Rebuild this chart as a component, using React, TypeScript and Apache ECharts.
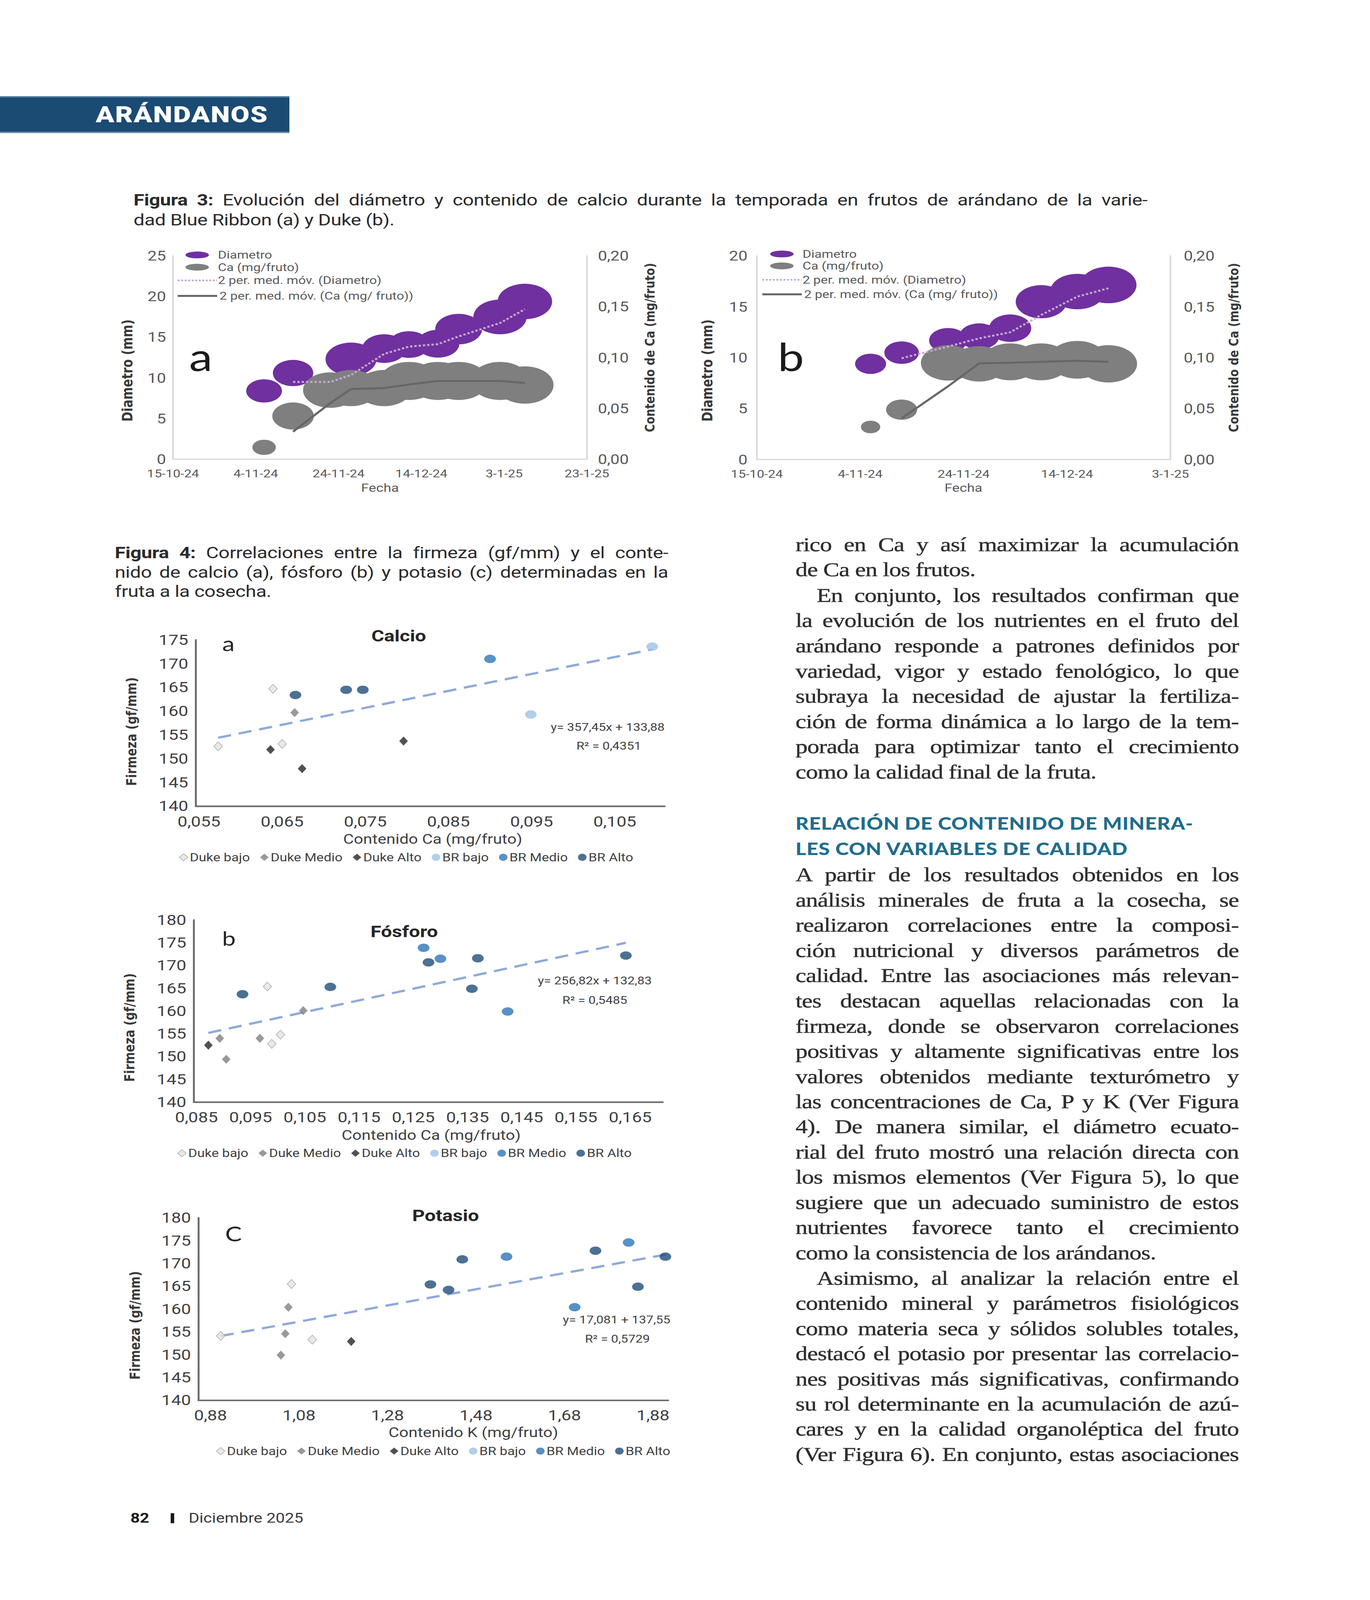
import React, { useEffect, useRef } from "react";
import * as echarts from "echarts";

const W = 3508;
const H = 4958;

const SANS = "Roboto, 'Noto Sans', 'DejaVu Sans', sans-serif";
const WIDE = "'DejaVu Sans', Verdana, sans-serif";
const LETTER = "Lato, 'Open Sans', sans-serif";
const SERIF = "'Liberation Serif', 'DejaVu Serif', serif";

// ---------------- Figure 3 data ----------------
const AXIS_ORIGIN = "2024-10-15";

// (a) Blue Ribbon
const fig3aDates = ["2024-11-06", "2024-11-13", "2024-11-22", "2024-11-27", "2024-12-05", "2024-12-11", "2024-12-18", "2024-12-23", "2025-01-02", "2025-01-08"];
const fig3aDiametro = [8.4, 10.6, 8.4, 12.3, 13.6, 14.1, 14.2, 16.0, 17.5, 19.4];
const fig3aDiametroSize = [0.61, 0.69, 0.67, 0.87, 0.75, 0.7, 0.73, 0.8, 0.91, 0.93];
const fig3aCa = [0.0117, 0.0425, 0.068, 0.07, 0.07, 0.077, 0.077, 0.077, 0.077, 0.073];
const fig3aCaSize = [0.4, 0.71, 0.93, 0.95, 0.95, 1.0, 1.0, 1.0, 1.0, 0.98];

// (b) Duke
const fig3bDates = ["2024-11-06", "2024-11-12", "2024-11-21", "2024-11-27", "2024-12-03", "2024-12-09", "2024-12-16", "2024-12-22"];
const fig3bDiametro = [9.4, 10.5, 11.7, 12.1, 12.9, 15.5, 16.5, 17.15];
const fig3bDiametroSize = [0.53, 0.59, 0.65, 0.68, 0.72, 0.87, 0.93, 0.96];
const fig3bCa = [0.032, 0.049, 0.095, 0.094, 0.096, 0.096, 0.098, 0.094];
const fig3bCaSize = [0.33, 0.53, 0.93, 0.93, 0.97, 0.97, 0.99, 0.98];

// ---------------- Figure 4 data ----------------
const legendNames = ["Duke bajo", "Duke Medio", "Duke Alto", "BR bajo", "BR Medio", "BR Alto"];

// (a) Calcio
const calcioDukeBajo = [[0.0573, 152.6], [0.0639, 164.7], [0.065, 153.1]];
const calcioDukeMedio = [[0.0665, 159.7]];
const calcioDukeAlto = [[0.0636, 151.9], [0.0674, 147.9], [0.0796, 153.7]];
const calcioBRBajo = [[0.0949, 159.3], [0.1095, 173.6]];
const calcioBRMedio = [[0.09, 171.0]];
const calcioBRAlto = [[0.0666, 163.4], [0.0727, 164.5], [0.0747, 164.5]];
const calcioTrend = [[0.0573, 154.4], [0.1095, 173.0]];
const calcioTicks = [0.055, 0.065, 0.075, 0.085, 0.095, 0.105];

// (b) Fósforo
const fosforoDukeBajo = [[0.0981, 165.4], [0.0989, 152.8], [0.1005, 154.8]];
const fosforoDukeMedio = [[0.0893, 154.0], [0.0905, 149.4], [0.0967, 154.0], [0.1047, 160.1]];
const fosforoDukeAlto = [[0.0872, 152.5]];
const fosforoBRBajo: number[][] = [];
const fosforoBRMedio = [[0.1269, 173.9], [0.13, 171.5], [0.1424, 159.9]];
const fosforoBRAlto = [[0.0935, 163.7], [0.1097, 165.3], [0.1278, 170.7], [0.1358, 164.9], [0.1369, 171.6], [0.1642, 172.2]];
const fosforoTrend = [[0.0872, 155.2], [0.1642, 175.0]];
const fosforoTicks = [0.085, 0.095, 0.105, 0.115, 0.125, 0.135, 0.145, 0.155, 0.165];

// (c) Potasio
const potasioDukeBajo = [[0.903, 154.1], [1.063, 165.5], [1.11, 153.3]];
const potasioDukeMedio = [[1.056, 160.4], [1.049, 154.6], [1.039, 149.9]];
const potasioDukeAlto = [[1.198, 152.9]];
const potasioBRBajo: number[][] = [];
const potasioBRMedio = [[1.549, 171.5], [1.703, 160.4], [1.825, 174.6]];
const potasioBRAlto = [[1.377, 165.4], [1.418, 164.2], [1.449, 170.9], [1.75, 172.8], [1.846, 164.9], [1.908, 171.5]];
const potasioTrend = [[0.903, 154.1], [1.911, 172.0]];
const potasioTicks = [0.88, 1.08, 1.28, 1.48, 1.68, 1.88];

// ---------------- helpers ----------------
const DAY = 86400000;
const dayOf = (d: string) => Math.round((Date.parse(d) - Date.parse(AXIS_ORIGIN)) / DAY);
const dateLabel = (v: number) => {
  const dt = new Date(Date.parse(AXIS_ORIGIN) + v * DAY);
  return `${dt.getUTCDate()}-${dt.getUTCMonth() + 1}-${String(dt.getUTCFullYear()).slice(2)}`;
};
const movingAvg = (dates: string[], vals: number[]) =>
  vals.slice(1).map((v, i) => [dayOf(dates[i + 1]), (v + vals[i]) / 2]);

const BUBBLE_MAX = 150;
const PURPLE = "#7030a0";
const GREY = "#7f7f7f";
const MA_DIAM = "#c3a9cf";
const MA_CA = "#666666";

const bubble = (xi: number, yi: number, dates: string[], vals: number[], sizes: number[], color: string, z: number) => ({
  type: "scatter",
  xAxisIndex: xi,
  yAxisIndex: yi,
  z,
  silent: true,
  symbol: "circle",
  data: dates.map((d, i) => [dayOf(d), vals[i], sizes[i]]),
  symbolSize: (v: number[]) => [v[2] * BUBBLE_MAX, (v[2] * BUBBLE_MAX) / 1.27],
  itemStyle: { color, opacity: 1 },
});

const maLine = (xi: number, yi: number, dates: string[], vals: number[], color: string, type: any, width: number) => ({
  type: "line",
  xAxisIndex: xi,
  yAxisIndex: yi,
  z: 6,
  silent: true,
  symbol: "none",
  showSymbol: false,
  data: movingAvg(dates, vals),
  lineStyle: { color, width, type },
});

const STYLE: Record<string, any> = {
  "Duke bajo": { symbol: "diamond", size: [22, 28], color: "#e3e3e3", border: "#a6a6a6" },
  "Duke Medio": { symbol: "diamond", size: [22, 28], color: "#7f7f7f" },
  "Duke Alto": { symbol: "diamond", size: [22, 28], color: "#262626" },
  "BR bajo": { symbol: "circle", size: [30, 26], color: "#9dc3e6" },
  "BR Medio": { symbol: "circle", size: [30, 26], color: "#2e75b6" },
  "BR Alto": { symbol: "circle", size: [30, 26], color: "#1f4e79" },
};

const pointSeries = (idx: number, groups: number[][][]) =>
  groups.map((data, i) => {
    const name = legendNames[i];
    const s = STYLE[name];
    return {
      type: "scatter",
      name,
      xAxisIndex: idx,
      yAxisIndex: idx,
      z: 5,
      silent: true,
      symbol: s.symbol,
      symbolSize: s.size,
      data,
      itemStyle: { color: s.color, borderColor: s.border || s.color, borderWidth: s.border ? 2 : 0 },
    };
  });

const trendSeries = (idx: number, data: number[][]) => ({
  type: "line",
  xAxisIndex: idx,
  yAxisIndex: idx,
  z: 4,
  silent: true,
  symbol: "none",
  showSymbol: false,
  data,
  lineStyle: { color: "#8faadc", width: 7, type: [34, 20] },
});

const txt = (text: string, x: number, y: number, o: any = {}) => ({
  type: "text",
  x,
  y,
  rotation: o.rot || 0,
  silent: true,
  z: 20,
  style: {
    text,
    fontSize: o.size || 32,
    fontFamily: o.family || SANS,
    fontWeight: o.weight || "normal",
    fill: o.color || "#404040",
    align: o.align || "center",
    verticalAlign: "middle",
  },
});

const fig3Legend = (bx: number, by: number, rows: number[]) => [
  { type: "ellipse", silent: true, z: 20, shape: { cx: bx + 50, cy: by + rows[0], rx: 30, ry: 10.5 }, style: { fill: PURPLE } },
  txt("Diametro", bx + 103, by + rows[0], { align: "left", size: 34, color: "#595959" }),
  { type: "ellipse", silent: true, z: 20, shape: { cx: bx + 50, cy: by + rows[1], rx: 30, ry: 10.5 }, style: { fill: GREY } },
  txt("Ca (mg/fruto)", bx + 103, by + rows[1], { align: "left", size: 34, color: "#595959" }),
  { type: "line", silent: true, z: 20, shape: { x1: bx, y1: by + rows[2], x2: bx + 101, y2: by + rows[2] }, style: { stroke: MA_DIAM, lineWidth: 5, lineDash: [5, 4] } },
  txt("2 per. med. móv. (Diametro)", bx + 103, by + rows[2], { align: "left", size: 34, color: "#595959" }),
  { type: "line", silent: true, z: 20, shape: { x1: bx, y1: by + rows[3], x2: bx + 101, y2: by + rows[3] }, style: { stroke: MA_CA, lineWidth: 6 } },
  txt("2 per. med. móv. (Ca (mg/ fruto))", bx + 107, by + rows[3], { align: "left", size: 34, color: "#595959" }),
];

const fig3X = (gi: number, max: number) => ({
  type: "value",
  gridIndex: gi,
  min: 0,
  max,
  interval: 20,
  axisLine: { show: true, onZero: false, lineStyle: { color: "#d9d9d9", width: 4 } },
  axisTick: { show: false },
  splitLine: { show: false },
  axisLabel: { formatter: dateLabel, fontSize: 34, color: "#595959", margin: 28, fontFamily: SANS },
});
const fig3YL = (gi: number, max: number, margin: number) => ({
  type: "value",
  gridIndex: gi,
  position: "left",
  min: 0,
  max,
  interval: 5,
  axisLine: { show: true, onZero: false, lineStyle: { color: "#d9d9d9", width: 4 } },
  axisTick: { show: false },
  splitLine: { show: false },
  axisLabel: { fontSize: 42, color: "#595959", margin, fontFamily: SANS },
});
const fig3YR = (gi: number, margin: number) => ({
  type: "value",
  gridIndex: gi,
  position: "right",
  min: 0,
  max: 0.2,
  interval: 0.05,
  axisLine: { show: true, onZero: false, lineStyle: { color: "#d9d9d9", width: 4 } },
  axisTick: { show: false },
  splitLine: { show: false },
  axisLabel: { fontSize: 42, color: "#595959", margin, fontFamily: SANS, formatter: (v: number) => v.toFixed(2).replace(".", ",") },
});
const fig4X = (gi: number, min: number, max: number, ticks: number[], dec: number) => ({
  type: "value",
  gridIndex: gi,
  min,
  max,
  axisLine: { show: true, onZero: false, lineStyle: { color: "#6f6f6f", width: 5 } },
  axisTick: { show: false },
  splitLine: { show: false },
  axisLabel: {
    customValues: ticks,
    formatter: (v: number) => v.toFixed(dec).replace(".", ","),
    fontSize: 45,
    color: "#404040",
    margin: 25,
    fontFamily: SANS,
  },
});
const fig4Y = (gi: number, max: number) => ({
  type: "value",
  gridIndex: gi,
  min: 140,
  max,
  interval: 5,
  axisLine: { show: true, onZero: false, lineStyle: { color: "#6f6f6f", width: 5 } },
  axisTick: { show: false },
  splitLine: { show: false },
  axisLabel: { fontSize: 45, color: "#404040", margin: 19, fontFamily: SANS, padding: [0, 0, 24, 0] },
});

const fig4Legend = (left: number, centerY: number) => ({
  data: legendNames,
  left,
  top: centerY - 21,
  padding: 0,
  orient: "horizontal",
  itemWidth: 22,
  itemHeight: 22,
  itemGap: 26,
  selectedMode: false,
  textStyle: { fontSize: 35, color: "#404040", fontFamily: SANS },
});

function buildOption() {
  return {
    animation: false,
    backgroundColor: "transparent",
    textStyle: { fontFamily: SANS },
    grid: [
      { left: 443, top: 793, width: 1060, height: 630, outerBoundsMode: "none" },
      { left: 1938, top: 793, width: 1059, height: 631, outerBoundsMode: "none" },
      { left: 501, top: 1983, width: 1201, height: 515, outerBoundsMode: "none" },
      { left: 496, top: 2851, width: 1201, height: 564, outerBoundsMode: "none" },
      { left: 508, top: 3774, width: 1203, height: 565, outerBoundsMode: "none" },
    ],
    xAxis: [
      fig3X(0, 100),
      fig3X(1, 80),
      fig4X(2, 0.0546, 0.111, calcioTicks, 3),
      fig4X(3, 0.0845, 0.171, fosforoTicks, 3),
      fig4X(4, 0.8526, 1.9144, potasioTicks, 2),
    ],
    yAxis: [
      fig3YL(0, 25, 18),
      fig3YL(1, 20, 24),
      fig4Y(2, 175),
      fig4Y(3, 180),
      fig4Y(4, 180),
      fig3YR(0, 28),
      fig3YR(1, 34),
    ],
    legend: [fig4Legend(458, 2660), fig4Legend(454, 3577), fig4Legend(553, 4500)],
    series: [
      { ...bubble(0, 0, fig3aDates, fig3aDiametro, fig3aDiametroSize, PURPLE, 2), name: "Diametro a" },
      { ...bubble(0, 5, fig3aDates, fig3aCa, fig3aCaSize, GREY, 3), name: "Ca a" },
      maLine(0, 0, fig3aDates, fig3aDiametro, MA_DIAM, [6, 5], 6),
      maLine(0, 5, fig3aDates, fig3aCa, MA_CA, "solid", 6),
      { ...bubble(1, 1, fig3bDates, fig3bDiametro, fig3bDiametroSize, PURPLE, 2), name: "Diametro b" },
      { ...bubble(1, 6, fig3bDates, fig3bCa, fig3bCaSize, GREY, 3), name: "Ca b" },
      maLine(1, 1, fig3bDates, fig3bDiametro, MA_DIAM, [6, 5], 6),
      maLine(1, 6, fig3bDates, fig3bCa, MA_CA, "solid", 6),
      trendSeries(2, calcioTrend),
      ...pointSeries(2, [calcioDukeBajo, calcioDukeMedio, calcioDukeAlto, calcioBRBajo, calcioBRMedio, calcioBRAlto]),
      trendSeries(3, fosforoTrend),
      ...pointSeries(3, [fosforoDukeBajo, fosforoDukeMedio, fosforoDukeAlto, fosforoBRBajo, fosforoBRMedio, fosforoBRAlto]),
      trendSeries(4, potasioTrend),
      ...pointSeries(4, [potasioDukeBajo, potasioDukeMedio, potasioDukeAlto, potasioBRBajo, potasioBRMedio, potasioBRAlto]),
    ],
    graphic: [
      ...fig3Legend(455, 790, [0, 38, 79, 127]),
      txt("a", 514, 1103, { size: 120, family: LETTER, color: "#1a1a1a" }),
      txt("Diametro (mm)", 326, 1148, { rot: Math.PI / 2, size: 37, weight: "bold", family: WIDE, color: "#3a3a3a" }),
      txt("Contenido de Ca (mg/fruto)", 1664, 1077, { rot: Math.PI / 2, size: 34, weight: "bold", family: WIDE, color: "#3a3a3a" }),
      txt("Fecha", 973, 1511, { size: 36, color: "#595959" }),
      ...fig3Legend(1952, 787, [0, 37, 80, 125]),
      txt("b", 2025, 1103, { size: 120, family: LETTER, color: "#1a1a1a" }),
      txt("Diametro (mm)", 1811, 1148, { rot: Math.PI / 2, size: 37, weight: "bold", family: WIDE, color: "#3a3a3a" }),
      txt("Contenido de Ca (mg/fruto)", 3159, 1077, { rot: Math.PI / 2, size: 34, weight: "bold", family: WIDE, color: "#3a3a3a" }),
      txt("Fecha", 2467, 1511, { size: 36, color: "#595959" }),
      txt("Calcio", 1021, 1970, { size: 50, weight: "bold", color: "#262626" }),
      txt("a", 585, 1993, { size: 64, family: LETTER, color: "#262626" }),
      txt("y= 357,45x + 133,88", 1556, 2253, { size: 33 }),
      txt("R² = 0,4351", 1559, 2312, { size: 33 }),
      txt("Firmeza (gf/mm)", 336, 2267, { rot: Math.PI / 2, size: 36, weight: "bold", family: WIDE, color: "#3a3a3a" }),
      txt("Contenido Ca (mg/fruto)", 1108, 2600, { size: 42 }),
      txt("Fósforo", 1035, 2887, { size: 50, weight: "bold", color: "#262626" }),
      txt("b", 586, 2906, { size: 62, family: LETTER, color: "#262626" }),
      txt("y= 256,82x + 132,83", 1523, 3039, { size: 33 }),
      txt("R² = 0,5485", 1523, 3099, { size: 33 }),
      txt("Firmeza (gf/mm)", 331, 3184, { rot: Math.PI / 2, size: 36, weight: "bold", family: WIDE, color: "#3a3a3a" }),
      txt("Contenido Ca (mg/fruto)", 1104, 3517, { size: 42 }),
      txt("Potasio", 1141, 3767, { size: 50, weight: "bold", color: "#262626" }),
      txt("C", 598, 3822, { size: 64, family: LETTER, color: "#262626" }),
      txt("y= 17,081 + 137,55", 1579, 4090, { size: 33 }),
      txt("R² = 0,5729", 1581, 4149, { size: 33 }),
      txt("Firmeza (gf/mm)", 345, 4107, { rot: Math.PI / 2, size: 36, weight: "bold", family: WIDE, color: "#3a3a3a" }),
      txt("Contenido K (mg/fruto)", 1212, 4438, { size: 42 }),
    ],
  };
}

// ---------------- page text ----------------
const bodyPart1: [string, boolean, boolean][] = [
  ["rico en Ca y así maximizar la acumulación", true, false],
  ["de Ca en los frutos.", false, false],
  ["En conjunto, los resultados confirman que", true, true],
  ["la evolución de los nutrientes en el fruto del", true, false],
  ["arándano responde a patrones definidos por", true, false],
  ["variedad, vigor y estado fenológico, lo que", true, false],
  ["subraya la necesidad de ajustar la fertiliza-", true, false],
  ["ción de forma dinámica a lo largo de la tem-", true, false],
  ["porada para optimizar tanto el crecimiento", true, false],
  ["como la calidad final de la fruta.", false, false],
];
const headingLines = ["RELACIÓN DE CONTENIDO DE MINERA-", "LES CON VARIABLES DE CALIDAD"];
const bodyPart2: [string, boolean, boolean][] = [
  ["A partir de los resultados obtenidos en los", true, false],
  ["análisis minerales de fruta a la cosecha, se", true, false],
  ["realizaron correlaciones entre la composi-", true, false],
  ["ción nutricional y diversos parámetros de", true, false],
  ["calidad. Entre las asociaciones más relevan-", true, false],
  ["tes destacan aquellas relacionadas con la", true, false],
  ["firmeza, donde se observaron correlaciones", true, false],
  ["positivas y altamente significativas entre los", true, false],
  ["valores obtenidos mediante texturómetro y", true, false],
  ["las concentraciones de Ca, P y K (Ver Figura", true, false],
  ["4). De manera similar, el diámetro ecuato-", true, false],
  ["rial del fruto mostró una relación directa con", true, false],
  ["los mismos elementos (Ver Figura 5), lo que", true, false],
  ["sugiere que un adecuado suministro de estos", true, false],
  ["nutrientes favorece tanto el crecimiento", true, false],
  ["como la consistencia de los arándanos.", false, false],
  ["Asimismo, al analizar la relación entre el", true, true],
  ["contenido mineral y parámetros fisiológicos", true, false],
  ["como materia seca y sólidos solubles totales,", true, false],
  ["destacó el potasio por presentar las correlacio-", true, false],
  ["nes positivas más significativas, confirmando", true, false],
  ["su rol determinante en la acumulación de azú-", true, false],
  ["cares y en la calidad organoléptica del fruto", true, false],
  ["(Ver Figura 6). En conjunto, estas asociaciones", true, false],
];

const lineStyle = (left: number, width: number, centerY: number, lh: number, justify: boolean, extra: any) => ({
  position: "absolute" as const,
  left,
  width,
  top: centerY - lh / 2,
  height: lh,
  lineHeight: lh + "px",
  whiteSpace: "nowrap" as const,
  textAlign: (justify ? "justify" : "left") as any,
  textAlignLast: (justify ? "justify" : "left") as any,
  ...extra,
});

const BODY_LEFT = 2037;
const BODY_WIDTH = 1135;
const bodyFont = {
  fontFamily: SERIF,
  fontSize: 62,
  letterSpacing: "-1px",
  color: "#2e2e2e",
  WebkitTextStroke: "0.7px #2e2e2e",
};
const captionFont = { fontFamily: SANS, fontSize: 50, letterSpacing: "-0.5px", color: "#2b2b2b" };

export default function App() {
  const ref = useRef<HTMLDivElement>(null);
  // The photographed viewport may be shorter than the page: fit the page height into it.
  const vh = typeof window !== "undefined" && window.innerHeight ? window.innerHeight : H;
  const sy = Math.min(1, vh / H);

  useEffect(() => {
    if (!ref.current) return;
    const chart = echarts.init(ref.current, null, { renderer: "svg" });
    try {
      chart.setOption(buildOption() as any);
    } catch (e) {
      console.error(e);
    }
    return () => chart.dispose();
  }, []);

  return (
    <div style={{ position: "relative", width: W, height: H * sy, overflow: "hidden", background: "#ffffff" }}>
      <style>{"body{margin:0;overflow:hidden;}"}</style>
      <div
        style={{
          position: "absolute",
          left: 0,
          top: 0,
          width: W,
          height: H,
          background: "#ffffff",
          transform: `scale(1, ${sy})`,
          transformOrigin: "0 0",
        }}
      >
        <div ref={ref} style={{ position: "absolute", left: 0, top: 0, width: W, height: H }} />

        {/* Section header */}
        <div
          style={{
            position: "absolute",
            left: 0,
            top: 298,
            width: 741,
            height: 114,
            background: "#1b4a72",
            boxShadow: "inset 0 4px 0 #5f86ab, inset 0 -4px 0 #5f86ab",
          }}
        />
        <div
          style={{
            position: "absolute",
            left: 245,
            top: 298,
            height: 114,
            lineHeight: "114px",
            fontFamily: SANS,
            fontWeight: 900,
            fontSize: 70,
            letterSpacing: "2px",
            color: "#ffffff",
            whiteSpace: "nowrap",
          }}
        >
          ARÁNDANOS
        </div>

        {/* Figure 3 caption */}
        <div style={lineStyle(342, 2596, 620, 60, true, captionFont)}>
          <b>Figura 3:</b> Evolución del diámetro y contenido de calcio durante la temporada en frutos de arándano de la varie-
        </div>
        <div style={lineStyle(342, 2596, 681, 60, false, captionFont)}>dad Blue Ribbon (a) y Duke (b).</div>

        {/* Figure 4 caption */}
        <div style={lineStyle(294, 1417, 1713, 60, true, captionFont)}>
          <b>Figura 4:</b> Correlaciones entre la firmeza (gf/mm) y el conte-
        </div>
        <div style={lineStyle(294, 1417, 1773, 60, true, captionFont)}>
          nido de calcio (a), fósforo (b) y potasio (c) determinadas en la
        </div>
        <div style={lineStyle(294, 1417, 1833, 60, false, captionFont)}>fruta a la cosecha.</div>

        {/* Body text column */}
        {bodyPart1.map(([t, j, ind], i) => (
          <div key={"p1" + i} style={lineStyle(BODY_LEFT + (ind ? 54 : 0), BODY_WIDTH - (ind ? 54 : 0), 1687 + i * 78.3, 78, j, bodyFont)}>
            {t}
          </div>
        ))}
        {headingLines.map((t, i) => (
          <div
            key={"h" + i}
            style={lineStyle(BODY_LEFT, BODY_WIDTH, 2551 + i * 79, 78, false, {
              fontFamily: "Lato, 'Open Sans', sans-serif",
              fontWeight: 900,
              fontSize: 52,
              color: "#1f6d8d",
              letterSpacing: "1px",
            })}
          >
            {t}
          </div>
        ))}
        {bodyPart2.map(([t, j, ind], i) => (
          <div key={"p2" + i} style={lineStyle(BODY_LEFT + (ind ? 54 : 0), BODY_WIDTH - (ind ? 54 : 0), 2710 + i * 78.1, 78, j, bodyFont)}>
            {t}
          </div>
        ))}

        {/* Footer */}
        <div style={{ position: "absolute", left: 334, top: 4679, height: 50, lineHeight: "50px", fontFamily: SANS, fontWeight: 700, fontSize: 42, color: "#1a1a1a" }}>82</div>
        <div style={{ position: "absolute", left: 437, top: 4689, width: 9, height: 31, background: "#1a1a1a" }} />
        <div style={{ position: "absolute", left: 483, top: 4679, height: 50, lineHeight: "50px", fontFamily: SANS, fontSize: 42, color: "#3a3a3a", whiteSpace: "nowrap" }}>
          Diciembre 2025
        </div>
      </div>
    </div>
  );
}
